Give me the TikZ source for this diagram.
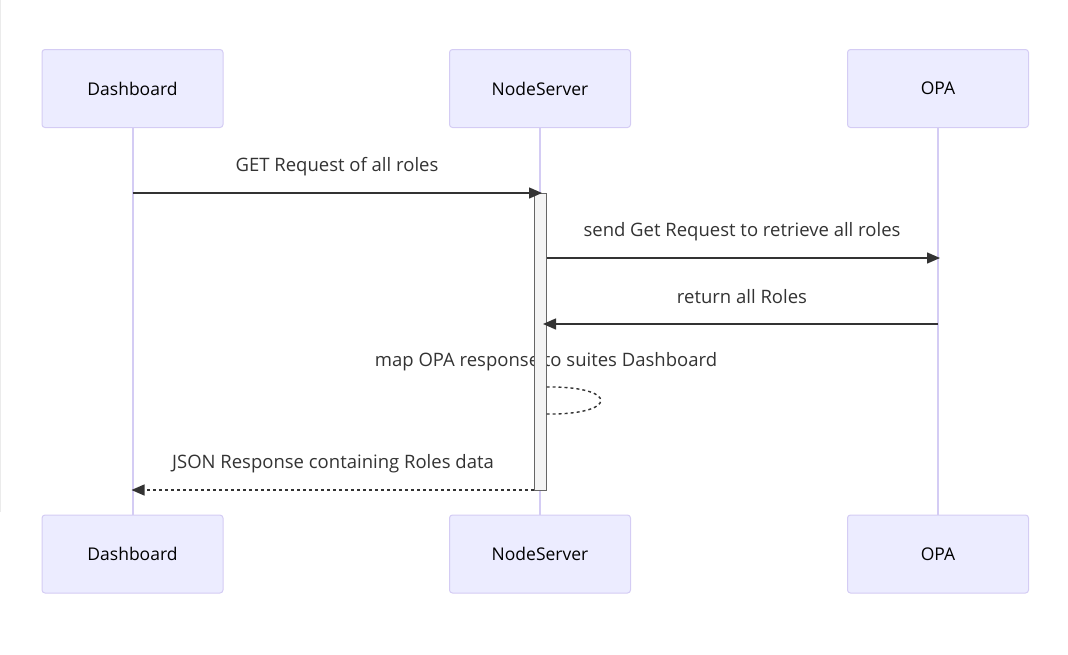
\documentclass[tikz,border=0pt]{standalone}
\usepackage{fontspec}
\setmainfont{Open Sans}
\usetikzlibrary{arrows.meta}
\definecolor{actorfill}{HTML}{ECECFF}
\definecolor{actorline}{HTML}{D4CCF4}
\definecolor{msgcol}{HTML}{333333}
\definecolor{actfill}{HTML}{F4F4F4}
\begin{document}
\begin{tikzpicture}[x=1pt,y=-1pt,
  actor/.style={draw=actorline,fill=actorfill,rounded corners=3pt,line width=1pt,
    minimum width=181pt,minimum height=78pt,font=\fontsize{17.5}{20}\selectfont},
  lifeline/.style={draw=actorline,line width=2pt},
  msg/.style={draw=msgcol,line width=1.4pt,-{Triangle[length=13pt,width=11pt]}},
  lbl/.style={text=msgcol,font=\fontsize{18.5}{22}\selectfont}]
\useasboundingbox (0,0) rectangle (1068,654);

% Faint frame edge
\draw[black!8,line width=1pt] (0.5,0) -- (0.5,512);

% Actors
\node[actor] (dashT) at (132.5,88.5) {Dashboard};
\node[actor] (nodeT) at (540,88.5) {NodeServer};
\node[actor] (opaT) at (938,88.5) {OPA};
\node[actor] (dashB) at (132.5,554) {Dashboard};
\node[actor] (nodeB) at (540,554) {NodeServer};
\node[actor] (opaB) at (938,554) {OPA};

% Lifelines
\draw[lifeline] (dashT) -- (dashB);
\draw[lifeline] (nodeT) -- (nodeB);
\draw[lifeline] (opaT) -- (opaB);

% Labels
\node[lbl] (l1) at (337,167) {GET Request of all roles};
\node[lbl] (l2) at (742,232) {send Get Request to retrieve all roles};
\node[lbl] (l3) at (742,297) {return all Roles};
\node[lbl] (l4) at (546,362) {map OPA response to suites Dashboard};
\node[lbl] (l5) at (333,464) {JSON Response containing Roles data};

% Activation bar
\node[draw=black!60,fill=actfill,line width=1pt,inner sep=0pt,minimum width=12pt,
  minimum height=297pt,anchor=north] (act) at (540,193) {};

% Message rows
\coordinate (r1) at (0,193);
\coordinate (r2) at (0,258);
\coordinate (r3) at (0,324);
\coordinate (r5) at (0,490);

% Messages
\draw[msg] (dashT |- r1) -- ([xshift=2pt]nodeT |- r1);
\draw[msg] (act.east |- r2) -- ([xshift=2pt]opaT |- r2);
\draw[msg] (opaT |- r3) -- ([xshift=3pt]nodeT |- r3);
\draw[msg,dash pattern=on 3pt off 3pt] (act.west |- r5) -- ([xshift=-1pt]dashT |- r5);

% Self call
\draw[draw=msgcol,line width=1.4pt,dash pattern=on 3pt off 3pt]
  (act.east |- 0,387) .. controls (619,386) and (619,415) .. (act.east |- 0,414);
\end{tikzpicture}
\end{document}
